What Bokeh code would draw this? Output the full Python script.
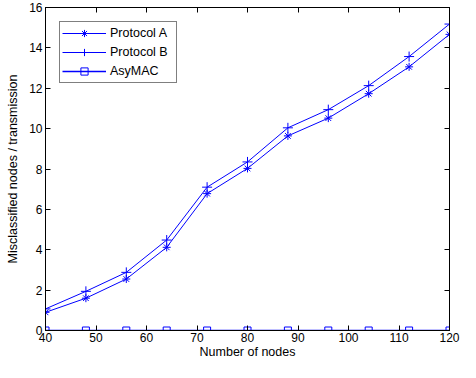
from bokeh.plotting import figure
from bokeh.models import LinearAxis, FixedTicker, Range1d, Legend, LegendItem, CustomJSTickFormatter
from bokeh.embed import file_html
from bokeh.resources import INLINE

nodes = [40, 48, 56, 64, 72, 80, 88, 96, 104, 112, 120]
protocol_a = [0.90, 1.60, 2.55, 4.12, 6.78, 8.03, 9.64, 10.52, 11.73, 13.06, 14.67]
protocol_b = [1.07, 1.94, 2.88, 4.48, 7.10, 8.35, 10.04, 10.94, 12.13, 13.57, 15.18]
asymac = [0, 0, 0, 0, 0, 0, 0, 0, 0, 0, 0]
x_ticks = [40, 50, 60, 70, 80, 90, 100, 110, 120]
y_ticks = [0, 2, 4, 6, 8, 10, 12, 14, 16]

FONT = "Liberation Sans"
BLUE = "#0000ff"

p = figure(width=460, height=362, output_backend="svg", toolbar_location=None,
           x_range=Range1d(40, 120), y_range=Range1d(0, 16),
           min_border_left=45, min_border_right=11, min_border_top=7, min_border_bottom=32)

p.xgrid.visible = False
p.ygrid.visible = False
p.outline_line_color = "black"
p.outline_line_width = 1
p.background_fill_color = "white"
p.border_fill_color = "white"

r_a = p.line(nodes, protocol_a, line_color=BLUE, line_width=1)
m_a = p.scatter(nodes, protocol_a, marker="asterisk", size=8, line_color=BLUE, line_width=1)
r_b = p.line(nodes, protocol_b, line_color=BLUE, line_width=1)
m_b = p.scatter(nodes, protocol_b, marker="cross", size=10, line_color=BLUE, line_width=1)
r_c = p.line(nodes, asymac, line_color=BLUE, line_width=1.5)
m_c = p.scatter(nodes, asymac, marker="square", size=7, line_color=BLUE, fill_color=None, line_width=1)

for ax in (p.xaxis[0], p.yaxis[0]):
    ax.major_tick_in = 5
    ax.major_tick_out = 0
    ax.minor_tick_in = 0
    ax.minor_tick_out = 0
    ax.axis_line_color = "black"
    ax.major_label_text_font = FONT
    ax.major_label_text_font_size = "12px"
    ax.major_label_text_color = "black"
    ax.axis_label_text_font = FONT
    ax.axis_label_text_font_size = "12.5px"
    ax.axis_label_text_font_style = "normal"
    ax.axis_label_text_color = "black"

p.xaxis[0].ticker = FixedTicker(ticks=x_ticks)
p.yaxis[0].ticker = FixedTicker(ticks=y_ticks)
p.xaxis[0].axis_label = "Number of nodes"
p.yaxis[0].axis_label = "Misclassified nodes / transmission"
p.xaxis[0].major_label_standoff = 2
p.xaxis[0].axis_label_standoff = 0
p.yaxis[0].major_label_standoff = 3
p.yaxis[0].axis_label_standoff = 6

blank = CustomJSTickFormatter(code="return '';")
top_ax = LinearAxis(ticker=FixedTicker(ticks=x_ticks), formatter=blank,
                    major_tick_in=5, major_tick_out=0, minor_tick_in=0, minor_tick_out=0,
                    major_label_standoff=0, axis_line_color="black")
right_ax = LinearAxis(ticker=FixedTicker(ticks=y_ticks), formatter=blank,
                      major_tick_in=5, major_tick_out=0, minor_tick_in=0, minor_tick_out=0,
                      major_label_standoff=0, axis_line_color="black")
p.add_layout(top_ax, "above")
p.add_layout(right_ax, "right")

legend = Legend(items=[
    LegendItem(label="Protocol A", renderers=[r_a, m_a]),
    LegendItem(label="Protocol B", renderers=[r_b, m_b]),
    LegendItem(label="AsyMAC", renderers=[r_c, m_c]),
], location="top_left")
legend.margin = 14
legend.padding = 2
legend.spacing = 1
legend.glyph_width = 44
legend.glyph_height = 18
legend.label_height = 18
legend.label_width = 64
legend.label_standoff = 4
legend.label_text_font = FONT
legend.label_text_font_size = "12.5px"
legend.label_text_color = "black"
legend.border_line_color = "black"
legend.border_line_width = 1
legend.background_fill_color = "white"
legend.background_fill_alpha = 1
p.add_layout(legend)

open("out.html", "w").write(file_html(p, INLINE))
